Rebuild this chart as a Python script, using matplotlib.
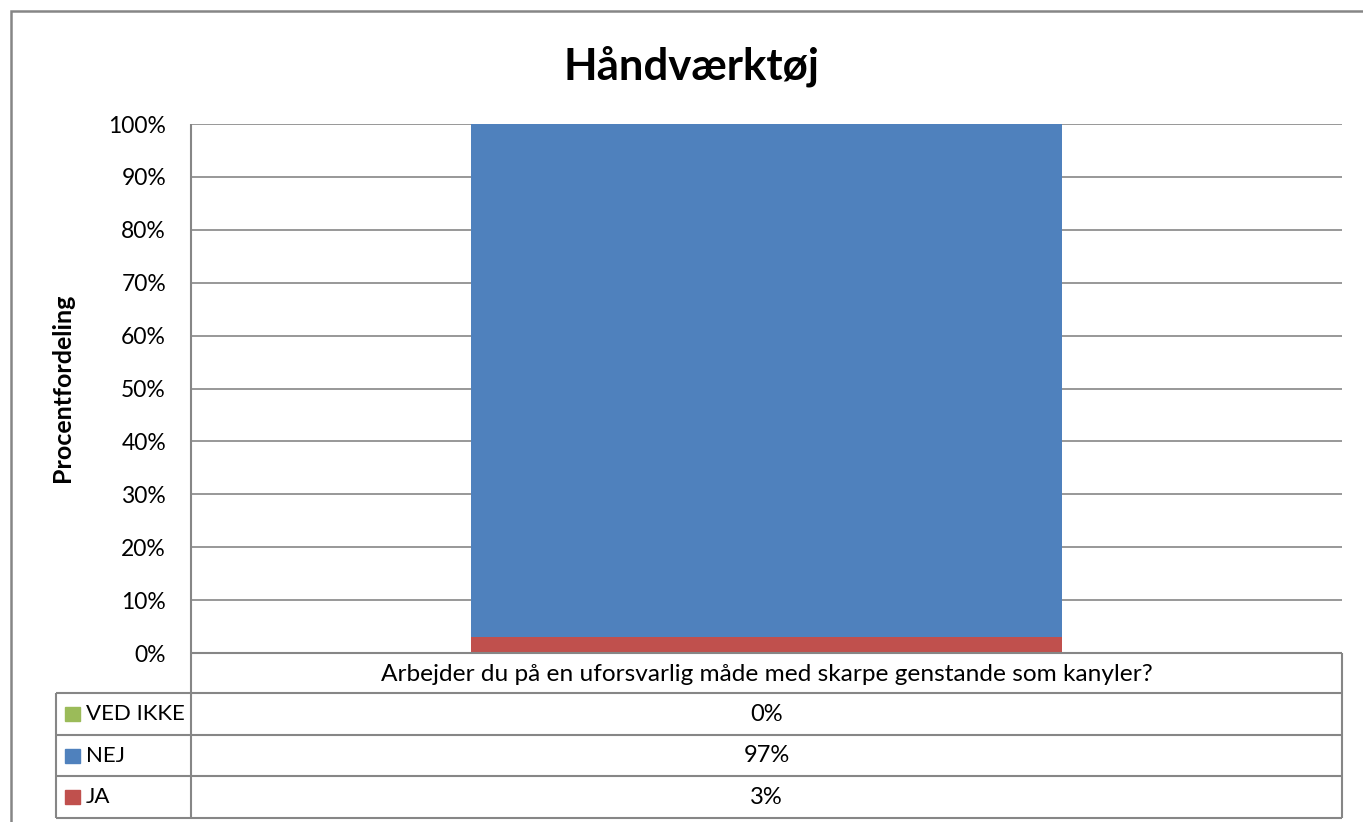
import matplotlib
matplotlib.use("Agg")
import matplotlib.pyplot as plt
from matplotlib.lines import Line2D
from matplotlib.patches import Rectangle

plt.rcParams["font.family"] = ["Lato", "DejaVu Sans"]

title = "Håndværktøj"
question = "Arbejder du på en uforsvarlig måde med skarpe genstande som kanyler?"
ylabel = "Procentfordeling"
# stacked from the bottom up
series = ["JA", "NEJ", "VED IKKE"]
values = [3, 97, 0]
colors = ["#C0504D", "#4F81BD", "#9BBB59"]
yticks = list(range(0, 101, 10))
table_order = ["VED IKKE", "NEJ", "JA"]

W, H = 1363, 822
GRID = "#868686"
fig = plt.figure(figsize=(W / 100, H / 100), dpi=100)


def fx(px):
    return px / W


def fy(py):
    return 1 - py / H


def hline(y, x0, x1, lw=1.5):
    fig.add_artist(Line2D([fx(x0), fx(x1)], [fy(y), fy(y)], color=GRID, lw=lw,
                          transform=fig.transFigure, solid_capstyle="butt"))


def vline(x, y0, y1, lw=1.5):
    fig.add_artist(Line2D([fx(x), fx(x)], [fy(y0), fy(y1)], color=GRID, lw=lw,
                          transform=fig.transFigure, solid_capstyle="butt"))


# outer chart border (runs off the right / bottom edge)
fig.add_artist(Rectangle((fx(11), fy(830)), fx(1400), fy(11) - fy(830), fill=False,
                         edgecolor=GRID, lw=1.8, transform=fig.transFigure))

left, right, top, bottom = 191, 1342, 124, 653
ax = fig.add_axes([fx(left), fy(bottom), fx(right - left), fy(top) - fy(bottom)])
ax.set_xlim(-0.5, 0.5)
ax.set_ylim(0, 100)
for s in ax.spines.values():
    s.set_visible(False)
ax.set_xticks([])
ax.set_yticks(yticks)
ax.set_yticklabels([f"{t}%" for t in yticks], fontsize=16.5)
ax.tick_params(axis="y", length=0, pad=18)
for t in yticks[1:]:
    ax.axhline(t, color=GRID, lw=1.2, zorder=0)

base = 0
for name, v, c in zip(series, values, colors):
    ax.bar(0, v, width=0.513, bottom=base, color=c, zorder=2)
    base += v

fig.text(fx(63), fy(388), ylabel, rotation=90, ha="center", va="center",
         fontsize=18, fontweight="bold")
fig.text(fx(691), fy(66), title, ha="center", va="center", fontsize=31.5, fontweight="bold")

# data table
rows_y = [693, 735, 776, 818]
hline(653, left, right)
for y in rows_y:
    hline(y, 56, right)
vline(left, top, 818)
vline(56, 693, 818)
vline(right, 653, 818)

fig.text(fx((left + right) / 2), fy(674), question, ha="center", va="center", fontsize=17.6)
lookup = dict(zip(series, values))
cmap = dict(zip(series, colors))
for i, name in enumerate(table_order):
    yc = (rows_y[i] + rows_y[i + 1]) / 2
    fig.add_artist(Rectangle((fx(65), fy(yc + 7)), fx(15), fy(yc - 7) - fy(yc + 7),
                             color=cmap[name], transform=fig.transFigure))
    fig.text(fx(86), fy(yc), name, ha="left", va="center", fontsize=16)
    fig.text(fx((left + right) / 2), fy(yc), f"{lookup[name]}%", ha="center", va="center",
             fontsize=17)

fig.savefig("out.png", dpi=100)
